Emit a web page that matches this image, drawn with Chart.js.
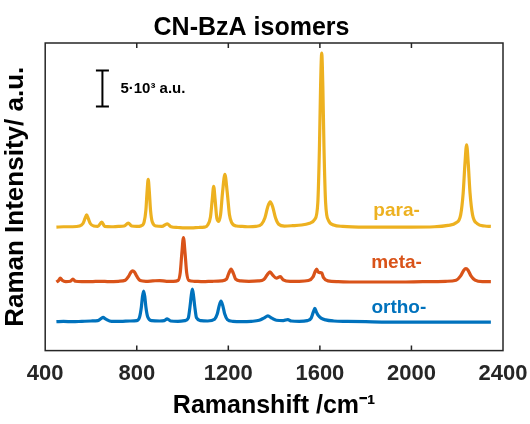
<!DOCTYPE html>
<html>
<head>
<meta charset="utf-8">
<script src="https://cdn.jsdelivr.net/npm/chart.js@4.4.1/dist/chart.umd.min.js"></script>
<style>
  html, body { margin: 0; padding: 0; background: #fff; }
  #wrap { width: 530px; height: 424px; position: relative; }
</style>
</head>
<body>
<div id="wrap"><canvas id="chart"></canvas></div>
<script>
// --- data (Raman shift in cm^-1, intensity in a.u., spectra already offset) ---
const xTicks = [400, 800, 1200, 1600, 2000, 2400];

const paraShift = [449, 480, 520, 550, 565, 574, 581, 588, 597, 612, 630, 647, 660, 690, 720, 745, 763, 778, 800, 820,
  832, 840, 845, 850, 855, 860, 868, 885, 910, 933, 950, 980, 1010, 1040, 1070, 1095, 1110, 1122, 1130, 1136,
  1142, 1150, 1158, 1166, 1175, 1185, 1195, 1205, 1215, 1235, 1260, 1290, 1320, 1345, 1360, 1372, 1383, 1394, 1406, 1420,
  1445, 1480, 1520, 1555, 1578, 1591, 1598, 1603, 1608, 1613, 1618, 1625, 1638, 1660, 1700, 1800, 1900, 2000, 2100, 2160,
  2195, 2215, 2226, 2234, 2241, 2248, 2256, 2267, 2287, 2320, 2347];
const paraIntensity = [17100, 17150, 17150, 17250, 17600, 18300, 18800, 18300, 17600, 17250, 17200, 17800, 17200, 17150, 17200, 17250, 17650, 17250, 17200, 17300,
  17800, 19500, 22000, 23700, 22000, 19500, 17800, 17250, 17200, 17550, 17150, 17050, 17000, 17000, 17050, 17100, 17400, 18500, 21000, 22750,
  21000, 18300, 17900, 18800, 22000, 24400, 22000, 18800, 17700, 17250, 17200, 17150, 17200, 17500, 18400, 19900, 20600, 19900, 18400, 17500,
  17250, 17300, 17400, 17650, 18200, 20500, 28000, 36500, 41200, 36500, 28000, 20500, 18000, 17400, 17200, 17100, 17100, 17100, 17150, 17350,
  17700, 18800, 21800, 26000, 28500, 26000, 21800, 18800, 17600, 17250, 17200];

const metaShift = [449, 458, 466, 474, 490, 510, 521, 532, 560, 600, 640, 680, 720, 750, 765, 775, 782, 790, 800, 815,
  840, 870, 900, 930, 960, 980, 990, 997, 1004, 1011, 1018, 1028, 1050, 1090, 1130, 1170, 1192, 1202, 1212, 1222,
  1232, 1255, 1290, 1330, 1355, 1370, 1382, 1394, 1410, 1427, 1440, 1470, 1510, 1550, 1570, 1580, 1586, 1592, 1600, 1608,
  1616, 1635, 1680, 1750, 1850, 1950, 2050, 2150, 2195, 2215, 2228, 2238, 2248, 2260, 2278, 2310, 2347];
const metaIntensity = [9500, 9700, 10050, 9750, 9550, 9600, 9900, 9600, 9550, 9550, 9600, 9550, 9600, 9750, 10300, 10900, 11050, 10900, 10300, 9700,
  9600, 9650, 9700, 9600, 9600, 9700, 10800, 13500, 15650, 13500, 10800, 9700, 9600, 9550, 9600, 9650, 9900, 10700, 11300, 10700,
  9900, 9650, 9600, 9650, 9850, 10500, 10900, 10450, 10050, 10250, 9800, 9600, 9600, 9700, 10200, 11000, 11300, 10900, 10800, 10750,
  10100, 9650, 9550, 9500, 9500, 9500, 9550, 9600, 9750, 10350, 11100, 11350, 11100, 10350, 9750, 9550, 9550];

const orthoShift = [449, 480, 520, 560, 600, 630, 645, 653, 663, 690, 730, 770, 800, 812, 820, 825, 830, 835, 840, 848,
  865, 900, 920, 933, 948, 980, 1010, 1025, 1033, 1038, 1043, 1048, 1053, 1061, 1080, 1110, 1140, 1152, 1160, 1168,
  1176, 1184, 1196, 1220, 1260, 1300, 1335, 1355, 1373, 1390, 1410, 1440, 1460, 1475, 1510, 1545, 1562, 1572, 1578, 1584,
  1592, 1605, 1625, 1660, 1720, 1800, 1900, 2000, 2100, 2200, 2280, 2347];
const orthoIntensity = [4000, 4050, 4000, 4050, 4100, 4150, 4450, 4600, 4400, 4050, 4050, 4100, 4150, 4600, 6000, 7500, 8250, 7500, 6000, 4650,
  4150, 4100, 4150, 4400, 4100, 4050, 4150, 4500, 6200, 7600, 8500, 7600, 6200, 4550, 4150, 4100, 4350, 5100, 6200, 6850,
  6200, 5100, 4300, 4050, 4000, 4050, 4200, 4500, 4800, 4500, 4200, 4150, 4300, 4100, 4050, 4150, 4500, 5400, 5850, 5400,
  4900, 4500, 4250, 4100, 4050, 4000, 3950, 3950, 3950, 3950, 3950, 3950];

const seriesNames = ['para-', 'meta-', 'ortho-'];
const seriesColors = ['#EDB120', '#D95319', '#0072BD'];
const labelPos = [[1935, 19400], [1935, 12150], [1945, 5900]];   // where each series name sits (data coords)
const scaleBar = { x: 650, from: 33800, size: 5000, text: '5·10³ a.u.' };

const toPoints = (xs, ys) => xs.map((x, i) => ({ x: x, y: ys[i] }));

// box, inward ticks, scale bar and series names
const decorations = {
  id: 'decorations',
  afterDraw(chart) {
    const { ctx, chartArea: a, scales } = chart;
    ctx.save();
    ctx.strokeStyle = '#262626';
    ctx.lineWidth = 1.5;
    ctx.strokeRect(a.left, a.top, a.right - a.left, a.bottom - a.top);
    xTicks.slice(1, -1).forEach(t => {
      const px = scales.x.getPixelForValue(t);
      ctx.beginPath();
      ctx.moveTo(px, a.bottom); ctx.lineTo(px, a.bottom - 5);
      ctx.moveTo(px, a.top); ctx.lineTo(px, a.top + 5);
      ctx.stroke();
    });

    // scale bar
    const bx = scales.x.getPixelForValue(scaleBar.x);
    const y1 = scales.y.getPixelForValue(scaleBar.from);
    const y2 = scales.y.getPixelForValue(scaleBar.from + scaleBar.size);
    ctx.strokeStyle = '#000';
    ctx.lineWidth = 2;
    ctx.beginPath();
    ctx.moveTo(bx, y1); ctx.lineTo(bx, y2);
    ctx.moveTo(bx - 6.5, y1); ctx.lineTo(bx + 6.5, y1);
    ctx.moveTo(bx - 6.5, y2); ctx.lineTo(bx + 6.5, y2);
    ctx.stroke();
    ctx.fillStyle = '#000';
    ctx.font = 'bold 15px "Liberation Sans", Arial, sans-serif';
    ctx.textAlign = 'left';
    ctx.textBaseline = 'middle';
    ctx.fillText(scaleBar.text, bx + 18, (y1 + y2) / 2);

    // series names
    ctx.font = 'bold 19px "Liberation Sans", Arial, sans-serif';
    ctx.textAlign = 'center';
    seriesNames.forEach((n, i) => {
      ctx.fillStyle = seriesColors[i];
      ctx.fillText(n, scales.x.getPixelForValue(labelPos[i][0]), scales.y.getPixelForValue(labelPos[i][1]));
    });
    ctx.restore();
  }
};

document.addEventListener('DOMContentLoaded', () => {
  const font = { family: '"Liberation Sans", Arial, sans-serif', weight: 'bold' };
  new Chart(document.getElementById('chart').getContext('2d'), {
    type: 'line',
    data: {
      datasets: [
        { label: seriesNames[0], data: toPoints(paraShift, paraIntensity), borderColor: seriesColors[0] },
        { label: seriesNames[1], data: toPoints(metaShift, metaIntensity), borderColor: seriesColors[1] },
        { label: seriesNames[2], data: toPoints(orthoShift, orthoIntensity), borderColor: seriesColors[2] }
      ]
    },
    options: {
      responsive: true, maintainAspectRatio: false, animation: false,
      elements: { point: { radius: 0 }, line: { borderWidth: 3.2, cubicInterpolationMode: 'monotone' } },
      layout: { padding: { left: 0, right: 27, top: 0, bottom: 3 } },
      plugins: {
        legend: { display: false }, tooltip: { enabled: false },
        title: { display: true, text: 'CN-BzA isomers', color: '#000', font: { ...font, size: 25 }, padding: { top: 13, bottom: 0 } }
      },
      scales: {
        x: {
          type: 'linear', min: 400, max: 2400,
          afterBuildTicks: s => { s.ticks = xTicks.map(v => ({ value: v })); },
          grid: { display: false },
          border: { display: false },
          ticks: { color: '#262626', font: { ...font, size: 22 }, padding: 2, maxRotation: 0, callback: v => String(v) },
          title: { display: true, text: 'Ramanshift /cm⁻¹', color: '#000', font: { ...font, size: 25 }, padding: { top: 2, bottom: 0 } }
        },
        y: {
          min: 0, max: 42600,
          grid: { display: false },
          border: { display: false },
          ticks: { display: false },
          title: { display: true, text: 'Raman Intensity/ a.u.', color: '#000', font: { ...font, size: 26 }, padding: { top: 0, bottom: 6 } }
        }
      }
    },
    plugins: [decorations]
  });
});
</script>
</body>
</html>
